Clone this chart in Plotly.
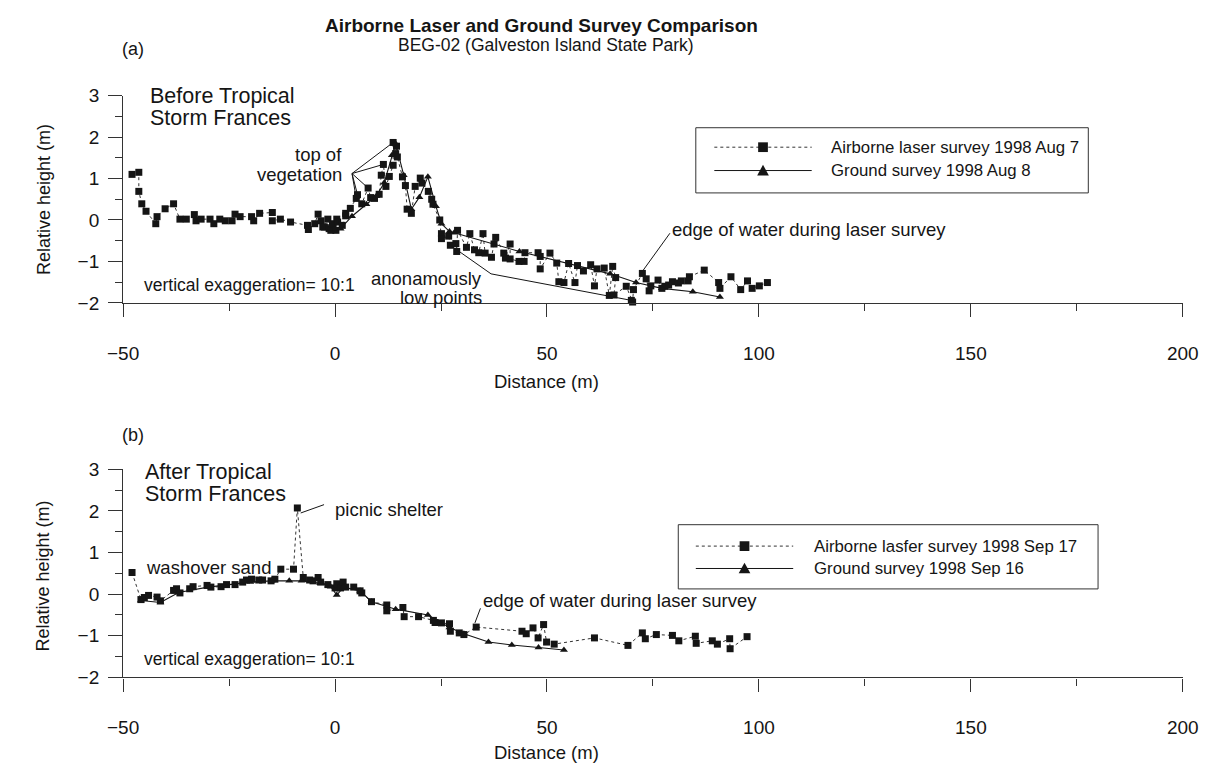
import plotly.graph_objects as go

W, H = 1228, 777
FONT = "Liberation Sans, Arial, Helvetica, sans-serif"
INK = "#151515"

# ---------------- (a) before Tropical Storm Frances ----------------
laser_a_x = [-47.9, -46.3, -46.3, -45.6, -44.6, -42.3, -42.0, -40.1, -38.1, -36.6,
             -35.1, -33.2, -32.8, -31.6, -29.5, -28.6, -27.2, -25.9, -24.3, -23.6,
             -22.4, -19.7, -19.2, -17.8, -14.8, -14.8, -12.9, -10.5, -6.5, -6.3,
             -4.8, -4.0, -3.3, -2.9, -2.5, -1.7, -1.4, -1.0, -0.6, 0.2,
             0.4, 0.6, 1.7, 2.5, 2.5, 3.6, 5.0, 5.3, 6.3, 7.8,
             8.4, 9.3, 10.4, 10.9, 11.4, 12.0, 12.8, 13.7, 13.7, 14.3,
             14.5, 14.7, 15.9, 16.6, 17.0, 18.0, 18.9, 20.1, 20.5, 22.0,
             22.8, 23.1, 24.7, 25.1, 25.1, 26.8, 27.2, 28.5, 28.7, 28.9,
             31.0, 31.8, 32.9, 33.9, 34.9, 35.4, 36.9, 37.5, 37.9, 39.8,
             40.2, 41.3, 41.3, 43.4, 44.6, 44.8, 47.9, 48.4, 48.4, 50.7,
             52.3, 52.8, 54.0, 55.1, 56.6, 57.2, 58.6, 60.3, 61.2, 61.8,
             63.5, 64.7, 65.5, 66.2, 65.8, 68.7, 69.9, 70.2, 70.4, 72.5,
             73.4, 74.1, 74.5, 76.2, 77.1, 77.8, 78.7, 79.6, 81.0, 81.7,
             83.3, 83.6, 87.1, 90.5, 90.8, 93.4, 95.7, 97.3, 98.4, 100.1,
             102.0]
laser_a_y = [1.10, 1.15, 0.69, 0.39, 0.21, -0.09, 0.08, 0.27, 0.39, 0.02,
             0.02, 0.13, -0.02, 0.02, 0.02, -0.09, 0.02, -0.02, -0.02, 0.14,
             0.08, 0.08, -0.02, 0.16, 0.18, -0.02, 0.02, -0.05, -0.13, -0.23,
             -0.09, 0.14, -0.02, -0.17, -0.17, 0.02, -0.21, -0.25, -0.09, -0.25,
             0.02, -0.05, -0.13, 0.10, 0.16, 0.28, 0.52, 0.61, 0.39, 0.77,
             0.54, 0.52, 0.62, 1.08, 1.34, 0.81, 1.05, 1.32, 1.87, 1.60,
             1.78, 1.52, 1.04, 0.83, 0.26, 0.16, 0.81, 1.01, 0.89, 0.69,
             0.50, 0.38, 0.00, -0.33, -0.45, -0.39, -0.61, -0.57, -0.76, -0.25,
             -0.66, -0.33, -0.72, -0.79, -0.33, -0.80, -0.90, -0.58, -0.42, -0.80,
             -0.92, -0.58, -0.94, -1.00, -1.00, -0.79, -0.79, -0.88, -1.18, -0.80,
             -1.04, -1.49, -1.51, -1.05, -1.51, -1.10, -1.23, -1.08, -1.59, -1.18,
             -1.16, -1.82, -1.12, -1.39, -1.81, -1.60, -1.94, -1.98, -1.68, -1.29,
             -1.42, -1.71, -1.59, -1.45, -1.65, -1.60, -1.57, -1.49, -1.52, -1.47,
             -1.47, -1.37, -1.21, -1.51, -1.65, -1.37, -1.68, -1.47, -1.65, -1.59,
             -1.51]

ground_a_x = [1.3, 4.0, 7.4, 9.7, 11.6, 13.4, 14.3, 16.2, 18.0, 19.9,
              21.9, 23.8, 25.1, 27.0, 28.1, 43.5, 64.9, 71.0, 77.1, 84.4, 90.8]
ground_a_y = [-0.21, 0.09, 0.38, 0.57, 0.90, 1.56, 1.84, 1.08, 0.26, 0.55,
              1.04, 0.33, -0.09, -0.28, -0.31, -0.76, -1.30, -1.51, -1.65, -1.73, -1.86]

# ---------------- (b) after Tropical Storm Frances ----------------
laser_b_x = [-47.9, -45.8, -45.0, -44.0, -42.0, -41.2, -38.1, -37.4, -36.6, -34.3,
             -33.5, -30.2, -29.3, -26.9, -25.6, -23.6, -21.8, -20.9, -19.7, -18.0,
             -17.1, -15.1, -14.2, -12.8, -9.8, -8.9, -7.5, -6.0, -5.2, -4.0,
             -3.4, -1.7, 0.0, 0.4, 1.3, 1.9, 2.5, 4.4, 5.9, 6.3,
             8.6, 12.2, 12.2, 16.0, 16.3, 19.7, 23.2, 23.6, 25.1, 27.0,
             27.2, 29.3, 30.4, 33.3, 44.1, 45.1, 46.7, 47.9, 49.2, 49.9,
             51.7, 61.2, 69.1, 72.5, 73.2, 75.8, 79.6, 81.1, 85.0, 85.2,
             89.0, 90.2, 93.1, 93.2, 97.2]
laser_b_y = [0.52, -0.13, -0.08, -0.03, -0.07, -0.16, 0.09, 0.13, 0.03, 0.13,
             0.18, 0.21, 0.17, 0.18, 0.23, 0.23, 0.29, 0.34, 0.36, 0.34,
             0.34, 0.32, 0.36, 0.60, 0.60, 2.07, 0.40, 0.34, 0.32, 0.40,
             0.29, 0.23, 0.15, 0.25, 0.15, 0.29, 0.17, 0.17, 0.08, 0.03,
             -0.18, -0.26, -0.40, -0.32, -0.54, -0.54, -0.63, -0.68, -0.69, -0.71,
             -0.89, -0.93, -0.97, -0.79, -0.89, -0.95, -0.81, -1.05, -0.73, -1.15,
             -1.20, -1.05, -1.23, -0.93, -1.07, -0.97, -0.99, -1.12, -1.01, -1.18,
             -1.12, -1.20, -1.07, -1.31, -1.02]

ground_b_x = [-45.8, -41.2, -36.9, -30.0, -20.0, -15.0, -10.8, -7.9, -3.5, -1.0,
              0.4, 2.0, 5.9, 8.6, 14.3, 21.9, 27.0, 30.4, 36.2, 41.7, 48.0, 54.0]
ground_b_y = [-0.15, -0.20, 0.04, 0.17, 0.29, 0.32, 0.32, 0.32, 0.26, 0.18,
              -0.02, 0.17, 0.08, -0.18, -0.36, -0.50, -0.80, -0.95, -1.15, -1.22, -1.28, -1.34]

x_tickvals = [-50, 0, 50, 100, 150, 200]
y_tickvals = [-2, -1, 0, 1, 2, 3]

legend_a = ["Airborne laser survey 1998 Aug 7", "Ground survey 1998 Aug 8"]
legend_b = ["Airborne lasfer survey 1998 Sep 17", "Ground survey 1998 Sep 16"]


def px(x):
    return x / W


def py(y):
    return 1 - y / H


def nearest(xs, ys, x0, y0):
    """Pick the plotted point closest to (x0, y0) in scaled units."""
    best = min(range(len(xs)), key=lambda i: ((xs[i] - x0) / 5) ** 2 + (ys[i] - y0) ** 2)
    return xs[best], ys[best]


fig = go.Figure()

laser_style = dict(mode="lines+markers",
                   line=dict(color="#333", width=1, dash="dot"),
                   marker=dict(symbol="square", size=7, color=INK),
                   showlegend=False, cliponaxis=False)
ground_style = dict(mode="lines+markers",
                    line=dict(color=INK, width=1.1),
                    marker=dict(symbol="triangle-up", size=7, color=INK),
                    showlegend=False, cliponaxis=False)

fig.add_trace(go.Scatter(x=laser_a_x, y=laser_a_y, name=legend_a[0], xaxis="x", yaxis="y", **laser_style))
fig.add_trace(go.Scatter(x=ground_a_x, y=ground_a_y, name=legend_a[1], xaxis="x", yaxis="y", **ground_style))
fig.add_trace(go.Scatter(x=laser_b_x, y=laser_b_y, name=legend_b[0], xaxis="x2", yaxis="y2", **laser_style))
fig.add_trace(go.Scatter(x=ground_b_x, y=ground_b_y, name=legend_b[1], xaxis="x2", yaxis="y2", **ground_style))

x_left, x_right = 110, 1198
panels = {"a": (88, 301), "b": (472, 686)}

xcommon = dict(range=[-50, 200], tickvals=x_tickvals, ticks="outside", ticklen=13,
               tickwidth=1, tickcolor="#333",
               minor=dict(dtick=25, tick0=-50, ticks="outside", ticklen=7, tickcolor="#333"),
               showline=True, linecolor="#333", linewidth=1.2, showgrid=False, zeroline=False,
               tickfont=dict(family=FONT, size=19, color=INK), ticklabelstandoff=20,
               domain=[px(x_left), px(x_right)], fixedrange=True)
ycommon = dict(range=[-2, 3], tickvals=y_tickvals, ticks="outside", ticklen=14,
               tickwidth=1, tickcolor="#333",
               minor=dict(dtick=0.5, tick0=-2, ticks="outside", ticklen=7, tickcolor="#333"),
               showline=True, linecolor="#333", linewidth=1.2, showgrid=False, zeroline=False,
               tickfont=dict(family=FONT, size=19, color=INK), ticklabelstandoff=5,
               fixedrange=True)

fig.update_layout(
    xaxis=dict(**xcommon, anchor="y"),
    yaxis=dict(**ycommon, anchor="x", domain=[py(panels["a"][1]), py(panels["a"][0])]),
    xaxis2=dict(**xcommon, anchor="y2"),
    yaxis2=dict(**ycommon, anchor="x2", domain=[py(panels["b"][1]), py(panels["b"][0])]),
)

annotations = []


def text(t, x, y, size=18.5, xanchor="left", bold=False):
    annotations.append(dict(text=f"<b>{t}</b>" if bold else t, x=px(x), y=py(y),
                            xref="paper", yref="paper", xanchor=xanchor, yanchor="middle",
                            showarrow=False, font=dict(family=FONT, size=size, color=INK)))


# headings
text("Airborne Laser and Ground Survey Comparison", 540, 16, size=19, xanchor="center", bold=True)
text("BEG-02 (Galveston Island State Park)", 544, 36, size=17.5, xanchor="center")
text("(a)", 107, 40, size=18)
text("(b)", 107, 437, size=18)

# panel (a) labels
text("Before Tropical", 136, 88, size=21.5)
text("Storm Frances", 136, 111, size=21.5)
text("top of", 337, 149)
text("vegetation", 337, 169)
text("vertical exaggeration= 10:1", 129, 283, size=17.5)
text("anonamously", 481, 276)
text("low points", 481, 295, xanchor="right")
annotations[-2]["xanchor"] = "right"
text("edge of water during laser survey", 672, 226)
text("Distance (m)", 545, 382, size=18.5, xanchor="center")

# panel (b) labels
text("After Tropical", 130, 475, size=21.5)
text("Storm Frances", 130, 497, size=21.5)
text("picnic shelter", 325, 513)
text("washover sand", 264, 573, xanchor="right")
text("edge of water during laser survey", 477, 607)
text("vertical exaggeration= 10:1", 129, 667, size=17.5)
text("Distance (m)", 545, 763, size=18.5, xanchor="center")

# right-align the vegetation label block
for a in annotations:
    if a["text"] in ("top of", "vegetation"):
        a["xanchor"] = "right"

for yc in (195, 582):
    annotations.append(dict(text="Relative height (m)", x=px(28), y=py(yc), xref="paper", yref="paper",
                            textangle=-90, showarrow=False, xanchor="center", yanchor="middle",
                            font=dict(family=FONT, size=18, color=INK)))

shapes = []


def leader(x0, y0, x1, y1, ax="x", ay="y"):
    shapes.append(dict(type="line", x0=x0, y0=y0, x1=x1, y1=y1, xref=ax, yref=ay,
                       line=dict(color=INK, width=1)))


# "top of vegetation" fan of leader lines
apex = (4.0, 1.12)
for tx, ty in [(13.7, 1.87), (11.4, 1.34), (7.8, 0.77), (5.3, 0.61), (5.0, 0.52)]:
    px_, py_ = nearest(laser_a_x, laser_a_y, tx, ty)
    leader(apex[0], apex[1], px_, py_)

# "anonamously low points" guide line
low1 = nearest(laser_a_x, laser_a_y, 27.2, -0.61)
low2 = nearest(laser_a_x, laser_a_y, 69.9, -1.94)
leader(low1[0], low1[1], 36.8, -1.30)
leader(36.8, -1.30, low2[0], low2[1])

# edge of water, panel (a)
ew_a = nearest(laser_a_x, laser_a_y, 72.5, -1.29)
leader(79.0, -0.32, ew_a[0], ew_a[1] + 0.05)

# edge of water, panel (b)
ew_b = nearest(laser_b_x, laser_b_y, 33.3, -0.79)
leader(34.3, -0.34, ew_b[0] - 0.3, ew_b[1] + 0.1, "x2", "y2")

# picnic shelter
pic = nearest(laser_b_x, laser_b_y, -8.9, 2.07)
leader(-2.6, 2.15, pic[0] + 0.8, pic[1] - 0.12, "x2", "y2")


# legend boxes drawn in page pixels
def legend_box(x0, y0, x1, y1, rows, labels, line_x0, line_x1, text_x):
    shapes.append(dict(type="rect", x0=px(x0), y0=py(y0), x1=px(x1), y1=py(y1),
                       xref="paper", yref="paper", line=dict(color="#333", width=1),
                       fillcolor="white", layer="below"))
    mid = (line_x0 + line_x1) / 2
    for i, (ry, lab) in enumerate(zip(rows, labels)):
        shapes.append(dict(type="line", x0=px(line_x0), x1=px(line_x1), y0=py(ry), y1=py(ry),
                           xref="paper", yref="paper",
                           line=dict(color="#333" if i == 0 else INK, width=1,
                                     dash="dot" if i == 0 else "solid")))
        if i == 0:
            s = 5
            shapes.append(dict(type="rect", x0=px(mid - s), x1=px(mid + s), y0=py(ry - s), y1=py(ry + s),
                               xref="paper", yref="paper", fillcolor=INK, line=dict(width=0)))
        else:
            path = (f"M{px(mid - 6)},{py(ry + 5)} L{px(mid + 6)},{py(ry + 5)} "
                    f"L{px(mid)},{py(ry - 6)} Z")
            shapes.append(dict(type="path", path=path, xref="paper", yref="paper",
                               fillcolor=INK, line=dict(width=0)))
        text(lab, text_x, ry, size=16.8)


legend_box(698, 121, 1101, 188, [141, 165], legend_a, 717, 817, 835)
legend_box(680, 529, 1111, 595, [551, 574], legend_b, 698, 798, 817)

fig.update_layout(
    width=W, height=H,
    margin=dict(l=0, r=0, t=0, b=0),
    paper_bgcolor="white", plot_bgcolor="rgba(0,0,0,0)",
    showlegend=False,
    font=dict(family=FONT, color=INK),
    annotations=annotations,
    shapes=shapes,
)

fig.write_html("out.html", config=dict(displayModeBar=False))
